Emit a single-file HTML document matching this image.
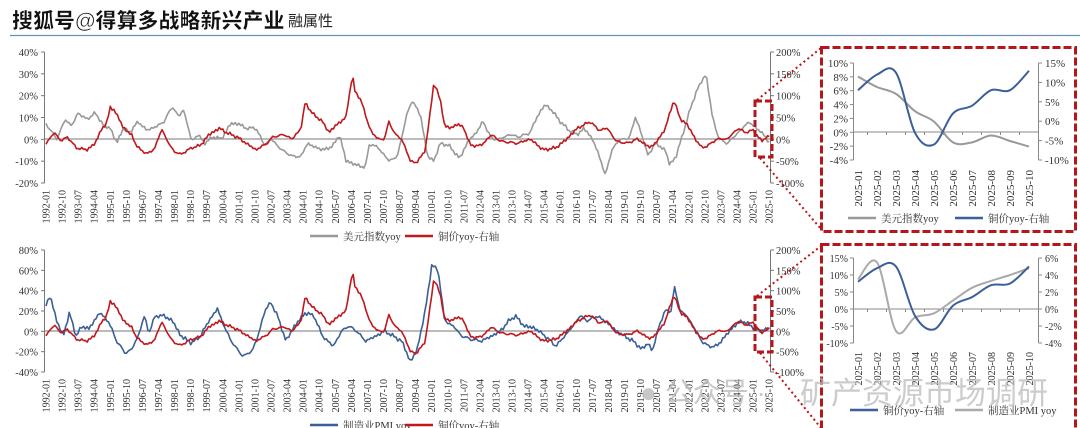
<!DOCTYPE html>
<html><head><meta charset="utf-8"><style>
html,body{margin:0;padding:0;background:#fff;}
svg{display:block;}
text{font-family:"Liberation Serif","Noto Serif CJK SC",serif;fill:#333;}
.cn{font-family:"Liberation Serif","Noto Serif CJK SC",serif;}
</style></head><body>
<svg id="s" width="1080" height="428" viewBox="0 0 1080 428" xmlns="http://www.w3.org/2000/svg">
<text x="12" y="28" style="font-family:'Liberation Sans','Noto Sans CJK SC',sans-serif;font-weight:900;font-size:21px;fill:#111;stroke:#fff;stroke-width:0.6">搜狐号@得算多战略新兴产业</text>
<text x="288" y="26" style="font-family:'Liberation Sans','Noto Sans CJK SC',sans-serif;font-size:15px;fill:#222">融属性</text>
<line x1="10" y1="35.5" x2="1080" y2="35.5" stroke="#6d8fb0" stroke-width="1.2"/>
<g id="g"></g>
<text x="640" y="402" style="font-family:'Liberation Sans','Noto Sans CJK SC',sans-serif;font-size:28px;fill:#bbb;opacity:0.8">● 公众号 ·</text>
<text x="800" y="404" style="font-family:'Liberation Sans','Noto Sans CJK SC',sans-serif;font-size:31px;fill:#bbb;opacity:0.75">矿产资源市场调研</text>
</svg>
<script>
var g=document.getElementById('g'),h='';
function ln(x1,y1,x2,y2,c,w,d){h+='<line x1="'+x1+'" y1="'+y1+'" x2="'+x2+'" y2="'+y2+'" stroke="'+c+'" stroke-width="'+w+'"'+(d?' stroke-dasharray="'+d+'"':'')+'/>';}
function tx(x,y,s,sz,anc,extra){h+='<text x="'+x+'" y="'+y+'" font-size="'+sz+'" text-anchor="'+(anc||'start')+'" '+(extra||'')+'>'+s+'</text>';}
function pl(pts,c,w){h+='<polyline fill="none" stroke="'+c+'" stroke-width="'+w+'" stroke-linejoin="round" points="'+pts.map(p=>p[0].toFixed(1)+','+p[1].toFixed(1)).join(' ')+'"/>';}
function interp(k,t){for(var i=0;i<k.length-1;i+=2){} var n=k.length/2;
 if(t<=k[0])return k[1]; for(i=0;i<n-1;i++){var a=k[2*i],b=k[2*i+2];if(t>=a&&t<=b){return k[2*i+1]+(k[2*i+3]-k[2*i+1])*(t-a)/(b-a);}} return k[k.length-1];}
function noise(t,a,s){return a*(Math.sin(t*37.1+s)+0.6*Math.sin(t*91.7+1+s)+0.4*Math.sin(t*213.3+s*2));}
function mx(t){return 46+(t-1992)*21.43;}
var usd=[1992,7,1992.5,0,1992.9,9,1993.2,6,1993.5,12,1993.9,9,1994.3,12,1994.7,6,1995.0,5,1995.3,-2,1995.6,5,1995.9,3,1996.3,8,1996.7,4,1997.2,6,1997.5,8,1997.9,15,1998.2,10,1998.4,14,1998.8,-1,1999.1,2,1999.4,-2,1999.8,1,2000.2,0,2000.6,7,2001.0,7,2001.3,5,2001.8,5,2002.2,-3,2002.5,0,2003.0,-5,2003.5,-8,2003.9,-8,2004.2,-2,2004.6,-4,2005.0,-5,2005.4,-3,2005.7,2,2006.0,-10,2006.5,-12,2006.9,-13,2007.1,-2,2007.5,-4,2008.0,-10,2008.4,-8,2008.8,10,2009.1,18,2009.5,10,2009.8,-8,2010.1,-10,2010.4,-2,2010.8,-3,2011.3,-9,2011.7,-1,2012.0,2,2012.4,8,2012.8,0,2013.2,0,2013.6,2,2014.1,1,2014.6,3,2014.9,10,2015.3,16,2015.7,12,2016.0,8,2016.4,4,2016.8,2,2017.1,5,2017.5,0,2017.9,-10,2018.1,-17,2018.4,-5,2018.8,0,2019.2,0,2019.5,10,2019.8,2,2020.1,-8,2020.4,-2,2020.9,-5,2021.1,-12,2021.4,-8,2021.8,5,2022.1,15,2022.4,23,2022.8,30,2023.1,10,2023.4,0,2023.8,-2,2024.1,1,2024.4,4,2024.8,8,2025.0,6,2025.3,4,2025.8,-2];
var cu=[1992,-2,1992.4,3,1992.7,-1,1993.0,1,1993.4,-4,1993.9,-5,1994.3,-2,1994.6,5,1994.8,6,1995.0,15,1995.4,10,1995.6,5,1996.0,2,1996.2,-3,1996.7,-7,1997.1,-4,1997.4,5,1997.6,0,1998.0,-6,1998.3,-7,1998.8,-4,1999.2,-3,1999.6,2,2000.1,5,2000.4,3,2000.9,1,2001.2,-1,2001.8,-5,2002.3,-2,2002.6,1,2003.1,2,2003.5,0,2003.9,5,2004.1,17,2004.4,12,2004.9,8,2005.2,3,2005.5,6,2006.0,10,2006.3,30,2006.4,22,2006.7,18,2007.0,8,2007.2,3,2007.5,0,2007.8,0,2008.0,8,2008.3,2,2008.6,0,2009.0,-10,2009.3,-11,2009.7,-5,2009.9,10,2010.1,26,2010.4,18,2010.6,6,2010.9,5,2011.2,7,2011.5,5,2011.8,-3,2012.3,-3,2012.8,2,2013.2,-1,2014.0,-2,2014.6,0,2015.2,-5,2015.8,-4,2016.3,0,2016.8,5,2017.4,8,2017.8,4,2018.2,5,2018.6,-1,2019.1,-2,2019.6,0,2020.2,-4,2020.6,0,2020.9,5,2021.3,18,2021.6,9,2021.9,7,2022.3,0,2022.6,-4,2022.9,-3,2023.3,0,2023.8,0,2024.3,5,2024.6,3,2025.0,4,2025.4,-1,2025.8,2];
var pmi=[1992,25,1992.2,35,1992.5,10,1992.8,-5,1993.1,18,1993.4,-5,1993.7,5,1994.0,2,1994.5,18,1994.9,10,1995.3,-10,1995.7,-22,1996.0,-18,1996.3,-5,1996.6,15,1996.8,-2,1997.1,15,1997.5,15,1997.9,10,1998.3,-5,1998.8,-12,1999.2,-5,1999.6,10,2000.0,22,2000.4,0,2000.8,-15,2001.2,-25,2001.6,-20,2001.9,-5,2002.2,20,2002.5,28,2002.8,15,2003.2,-10,2003.6,5,2004.1,18,2004.5,15,2004.9,-5,2005.4,-15,2005.8,0,2006.1,5,2006.5,0,2006.9,-10,2007.4,-5,2007.8,0,2008.2,-5,2008.6,-10,2009.0,-30,2009.3,-20,2009.7,20,2010.0,65,2010.3,60,2010.6,10,2011.0,5,2011.4,-5,2011.8,-8,2012.3,-10,2012.8,-5,2013.2,0,2013.6,10,2013.9,15,2014.3,5,2014.8,3,2015.3,-5,2015.8,-15,2016.2,-5,2016.6,5,2016.9,15,2017.3,10,2017.7,15,2018.2,8,2018.6,0,2019.0,-5,2019.4,-10,2019.8,-18,2020.1,-12,2020.3,-20,2020.6,5,2020.9,20,2021.2,20,2021.3,45,2021.6,20,2021.9,15,2022.2,5,2022.6,-10,2022.9,-15,2023.3,-15,2023.7,-5,2024.1,5,2024.5,10,2024.9,5,2025.3,0,2025.8,3];
function series(k,f,a,s,sc){var p=[];for(var m=0;m<=405;m++){var t=1992+m/12;p.push([mx(t),f((interp(k,t)+noise(t,a,s))*sc)]);}return p;}
// main charts axes
function mainAxes(top,bot,zero,lab,rlab,ylabs){
 ln(44.5,top,44.5,bot,'#777',1);ln(770.5,top,770.5,bot,'#777',1);
 for(var i=0;i<lab.length;i++){var y=top+(bot-top)*i/(lab.length-1);ln(41,y,44.5,y,'#777',1);tx(38,y+4,lab[i],10.5,'end');ln(770.5,y,774,y,'#777',1);tx(776,y+4,rlab[i],10.5,'start');}
 ln(44.5,zero,770.5,zero,'#777',1);
 for(var j=0;j<46;j++){var x=46+j*16.07;var m=j*9;var yr=1992+Math.floor(m/12),mo=m%12+1;tx(0,0,yr+'-'+(mo<10?'0':'')+mo,10,'end','transform="translate('+(x+3.5)+','+ylabs+') rotate(-90)"');}
}
mainAxes(52,183,139,['40%','30%','20%','10%','0%','-10%','-20%'],['200%','150%','100%','50%','0%','-50%','-100%'],190);
mainAxes(250,372,331,['80%','60%','40%','20%','0%','-20%','-40%'],['200%','150%','100%','50%','0%','-50%','-100%'],379);
pl(series(usd,v=>139-v*2.175,0.5,0,1),'#999',1.6);
pl(series(cu,v=>139-v*2.175,0.45,3,1),'#c0181c',1.6);
pl(series(pmi,v=>331-v*1.0125,1.2,5,1),'#3b5f98',1.6);
pl(series(cu,v=>331-v*1.0125,0.45,3,2),'#c0181c',1.6);
// legends
function leg(x,y,c,s){ln(x,y,x+28,y,c,2.5);tx(x+33,y+4,s,10.5,'start','class="cn"');}
leg(310,236,'#999','美元指数yoy');leg(405,236,'#c0181c','铜价yoy-右轴');
leg(310,425,'#3b5f98','制造业PMI yoy');leg(405,425,'#c0181c','铜价yoy-右轴');
// zoom boxes
var rc='#b5161b';
h+='<rect x="755" y="101" width="17" height="56" fill="none" stroke="'+rc+'" stroke-width="3" stroke-dasharray="7,3"/>';
h+='<rect x="755" y="297" width="17" height="55" fill="none" stroke="'+rc+'" stroke-width="3" stroke-dasharray="7,3"/>';
ln(757,100,821,48,rc,2,'2,3');ln(760,158,821,229,rc,2,'2,3');
ln(757,296,821,246,rc,2,'2,3');ln(760,353,821,428,rc,2,'2,3');
h+='<rect x="821.5" y="47.5" width="254" height="184" fill="none" stroke="'+rc+'" stroke-width="3" stroke-dasharray="8,3"/>';
h+='<rect x="821.5" y="244.5" width="254" height="190" fill="none" stroke="'+rc+'" stroke-width="3" stroke-dasharray="8,3"/>';
// inset function
function catm(pts){var d='M'+pts[0][0]+','+pts[0][1];for(var i=0;i<pts.length-1;i++){var p0=pts[Math.max(0,i-1)],p1=pts[i],p2=pts[i+1],p3=pts[Math.min(pts.length-1,i+2)];d+=' C'+(p1[0]+(p2[0]-p0[0])/6).toFixed(1)+','+(p1[1]+(p2[1]-p0[1])/6).toFixed(1)+' '+(p2[0]-(p3[0]-p1[0])/6).toFixed(1)+','+(p2[1]-(p3[1]-p1[1])/6).toFixed(1)+' '+p2[0].toFixed(1)+','+p2[1].toFixed(1);}return d;}
function inset(top,bot,zero,ll,rl,lfs,ylab,A,fa,B,fb,ca,cb){
 ln(853.5,top,853.5,bot,'#888',1);ln(1038.5,top,1038.5,bot,'#888',1);
 for(var i=0;i<ll.length;i++){var y=top+(bot-top)*i/(ll.length-1);ln(850,y,853.5,y,'#888',1);tx(848,y+4,ll[i],lfs,'end');}
 for(i=0;i<rl.length;i++){var y=top+(bot-top)*i/(rl.length-1);ln(1038.5,y,1042,y,'#888',1);tx(1045,y+4,rl[i],lfs,'start');}
 ln(853.5,zero,1038.5,zero,'#888',1);
 for(var j=0;j<10;j++){var x=858+j*19;ln(x+9.5,zero,x+9.5,zero+3,'#888',1);tx(0,0,'2025-'+(j<9?'0':'')+(j+1),lfs,'end','transform="translate('+(x+4)+','+ylab+') rotate(-90)"');}
 h+='<path d="'+catm(A.map((v,i)=>[858+i*19,fa(v)]))+'" fill="none" stroke="'+ca+'" stroke-width="2"/>';
 h+='<path d="'+catm(B.map((v,i)=>[858+i*19,fb(v)]))+'" fill="none" stroke="'+cb+'" stroke-width="2"/>';
}
inset(63,160,132,['10%','8%','6%','4%','2%','0%','-2%','-4%'],['15%','10%','5%','0%','-5%','-10%'],11,170,
 [8,6.5,5.5,3,1.5,-1.5,-1.5,-0.5,-1.3,-2.1],v=>132-v*6.93,
 [8,12,12.5,-3,-6,2,4,8,8,13],v=>63+(15-v)*3.88,'#999','#3b5f98');
leg(848,218,'#999','美元指数yoy');leg(955,218,'#3b5f98','铜价yoy-右轴');
inset(258,343,309,['15%','10%','5%','0%','-5%','-10%'],['6%','4%','2%','0%','-2%','-4%'],10,352,
 [3.5,5.5,-2.6,-1,-0.5,1,2.5,3.3,4,4.8],v=>258+(6-v)*8.5,
 [8,12,12.5,-2,-6,1,3.5,7,7.5,12.5],v=>309-v*3.4,'#aaa','#3b5f98');
leg(850,410,'#3b5f98','铜价yoy-右轴');leg(955,410,'#aaa','制造业PMI yoy');
g.innerHTML=h;
</script>
</body></html>
